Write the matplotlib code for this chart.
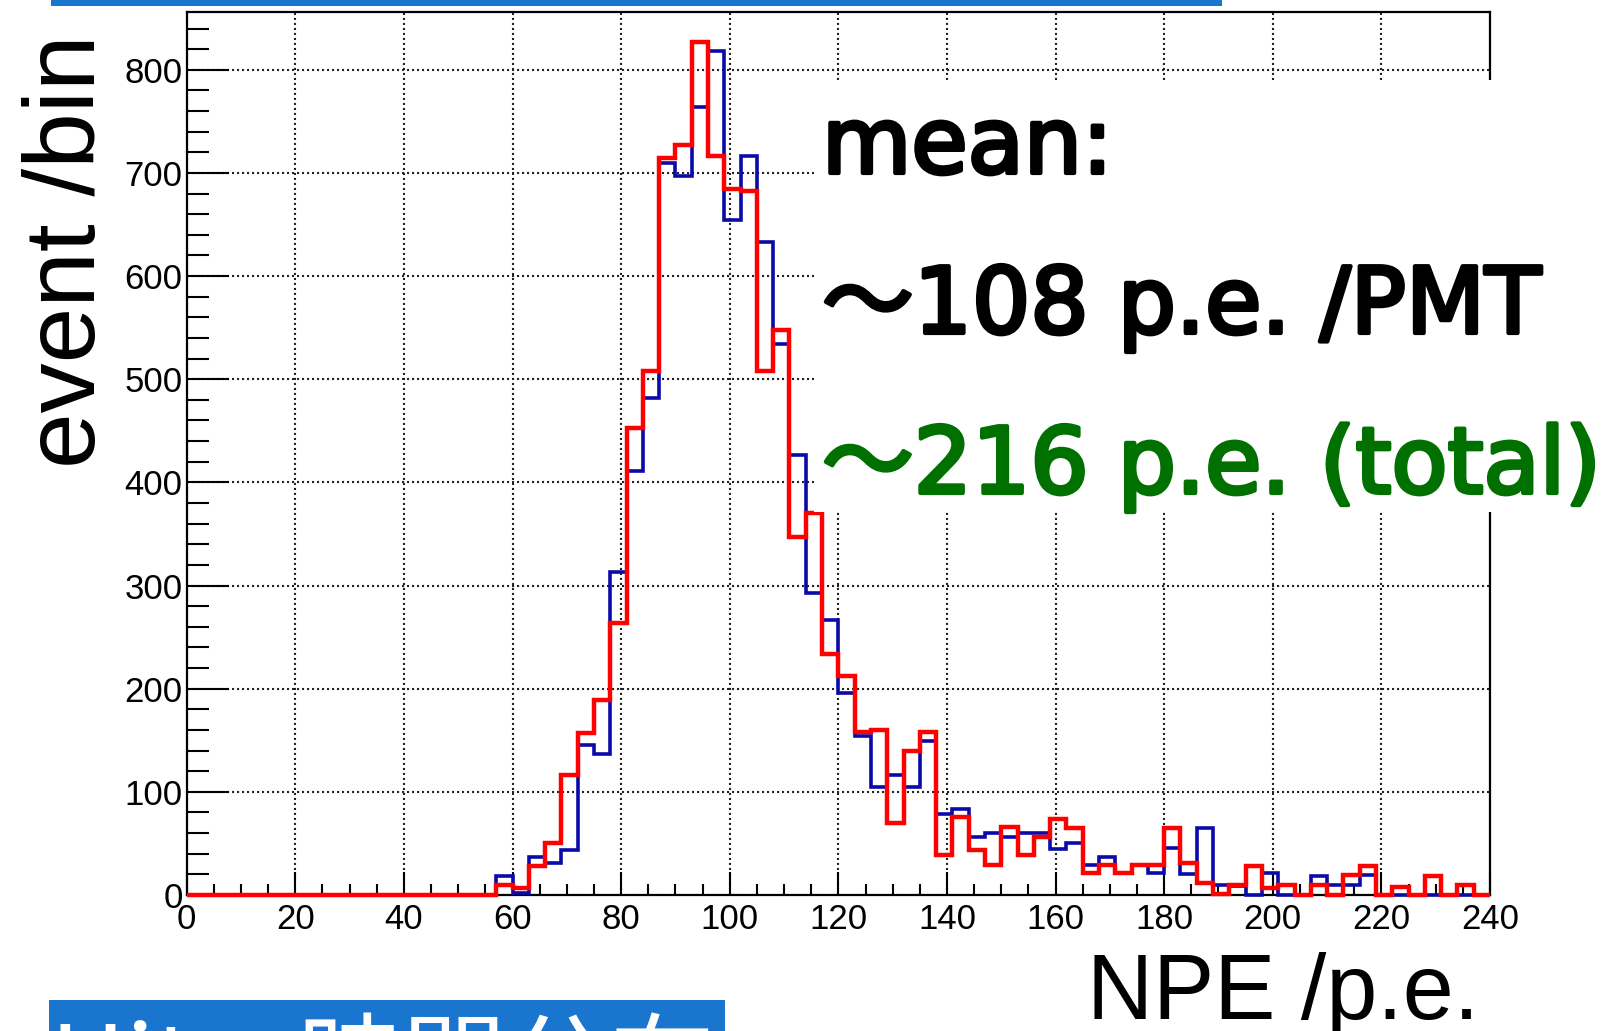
import numpy as np
import matplotlib
matplotlib.use('Agg')
import matplotlib.pyplot as plt
import matplotlib.patheffects as pe
from matplotlib.patches import Rectangle
from matplotlib.ticker import MultipleLocator

plt.rcParams['font.family'] = ['Liberation Sans', 'DejaVu Sans']

# histogram binning: 0-240 p.e., 3 p.e. per bin (80 bins)
bin_lo, bin_hi, bin_w = 0, 240, 3

# events per bin
npe_blue = [0, 0, 0, 0, 0, 0, 0, 0, 0, 0,
            0, 0, 0, 0, 0, 0, 0, 0, 0, 18,
            2, 37, 31, 44, 145, 137, 313, 411, 482, 710,
            697, 764, 818, 654, 716, 633, 534, 427, 293, 267,
            196, 154, 105, 116, 105, 149, 79, 83, 56, 60,
            56, 60, 60, 45, 50, 29, 37, 21, 29, 21,
            46, 20, 65, 10, 9, 0, 21, 0, 0, 18,
            10, 10, 19, 0, 0, 0, 0, 0, 0, 0]
npe_red = [0, 0, 0, 0, 0, 0, 0, 0, 0, 0,
           0, 0, 0, 0, 0, 0, 0, 0, 0, 10,
           7, 28, 50, 116, 157, 189, 264, 453, 508, 714,
           727, 827, 716, 684, 682, 508, 548, 347, 370, 234,
           212, 158, 160, 70, 140, 158, 39, 76, 44, 29,
           66, 39, 56, 74, 65, 21, 29, 21, 29, 29,
           65, 31, 12, 1, 10, 28, 7, 10, 0, 10,
           0, 19, 28, 0, 8, 0, 18, 0, 10, 0]

xlabel = 'NPE /p.e.'
ylabel = 'event /bin'
txt_mean = 'mean:'
txt_pmt = '〜108 p.e. /PMT'
txt_total = '〜216 p.e. (total)'
txt_footer = 'Hit　時間分布'

W, H = 1610, 1031
def fx(px):
    return px / W
def fy(py):
    return 1 - py / H

edges = np.arange(bin_lo, bin_hi + bin_w, bin_w)

fig = plt.figure(figsize=(W / 100, H / 100), dpi=100)
ax = fig.add_axes([fx(186.7), fy(895), fx(1490) - fx(186.7), fy(12) - fy(895)])

ax.stairs(npe_blue, edges, baseline=None, color='#0a0aa8', lw=2.6, clip_on=False, zorder=3)
ax.stairs(npe_red, edges, baseline=None, color='#ff0000', lw=3.2, clip_on=False, zorder=4)

ax.set_xlim(0, 240)
ax.set_ylim(0, 856)
ax.xaxis.set_major_locator(MultipleLocator(20))
ax.xaxis.set_minor_locator(MultipleLocator(5))
ax.yaxis.set_major_locator(MultipleLocator(100))
ax.yaxis.set_minor_locator(MultipleLocator(20))
ax.tick_params(axis='x', which='major', direction='in', length=16.5, width=1.5,
               top=False, labelsize=25, pad=6)
ax.tick_params(axis='x', which='minor', direction='in', length=8, width=1.5, top=False)
ax.tick_params(axis='y', which='major', direction='in', length=30, width=1.5,
               right=False, labelsize=25, pad=3)
ax.tick_params(axis='y', which='minor', direction='in', length=16, width=1.5, right=False)
for s in ax.spines.values():
    s.set_linewidth(1.6)
ax.set_axisbelow(True)
ax.grid(True, which='major', color='#222222', linestyle=(0, (1, 1.4)), linewidth=1.5)

# white box behind the annotation
fig.add_artist(Rectangle((fx(814), fy(512)), fx(1610) - fx(814), fy(80) - fy(512),
                         transform=fig.transFigure, facecolor='white',
                         edgecolor='none', zorder=2))

# slide decorations (blue bars)
fig.add_artist(Rectangle((fx(51), fy(6)), fx(1222) - fx(51), fy(0) - fy(6),
                         transform=fig.transFigure, facecolor='#1a75cf',
                         edgecolor='none', zorder=2))
fig.add_artist(Rectangle((fx(48.5), fy(1031)), fx(725) - fx(48.5), fy(1000) - fy(1031),
                         transform=fig.transFigure, facecolor='#1a75cf',
                         edgecolor='none', zorder=2))
fig.text(fx(50), fy(1100), txt_footer, fontsize=75, color='white',
         family=['Noto Sans CJK JP', 'DejaVu Sans'], ha='left', va='baseline', zorder=5)

big = dict(fontsize=66, family=['DejaVu Sans', 'Noto Sans CJK JP'],
           ha='left', va='baseline', zorder=5)
fig.text(fx(822), fy(173), txt_mean, color='black',
         path_effects=[pe.withStroke(linewidth=3, foreground='black')], **big)
fig.text(fx(822), fy(333), txt_pmt, color='black',
         path_effects=[pe.withStroke(linewidth=3, foreground='black')], **big)
fig.text(fx(822), fy(493), txt_total, color='#007000',
         path_effects=[pe.withStroke(linewidth=3, foreground='#007000')], **big)

# axis titles
fig.text(fx(95), fy(251.5), ylabel, fontsize=72, rotation=90, rotation_mode='anchor',
         ha='center', va='baseline', color='black')
fig.text(fx(1479), fy(1019), xlabel, fontsize=66, ha='right', va='baseline', color='black')

fig.savefig('out.png', dpi=100)
